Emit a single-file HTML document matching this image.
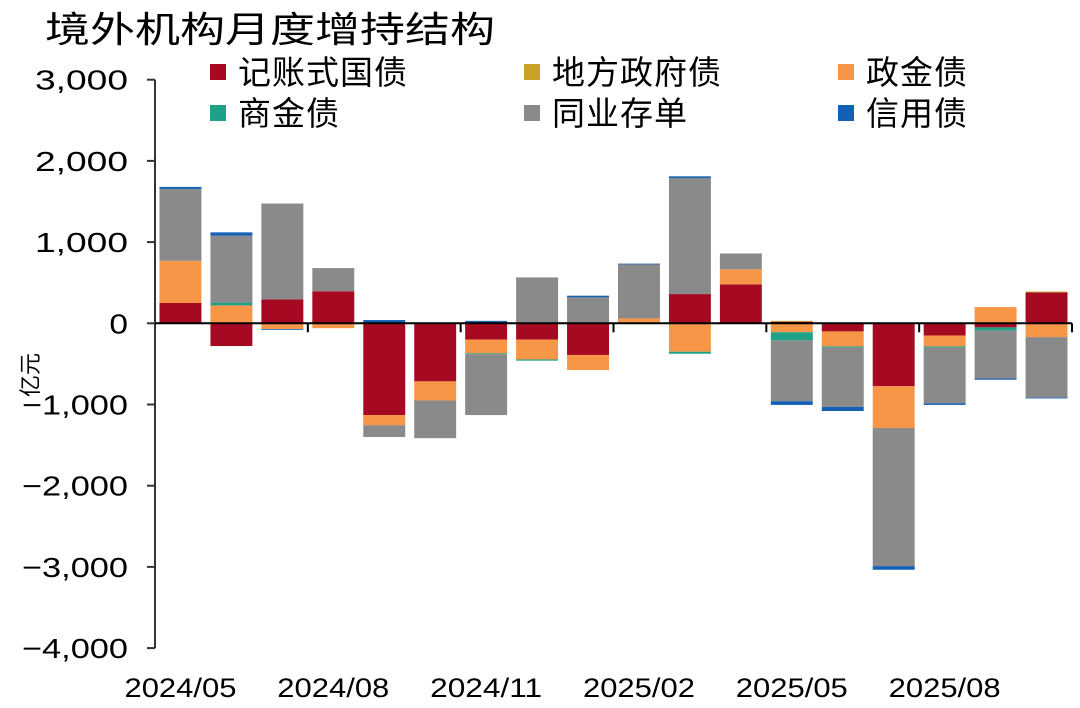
<!DOCTYPE html>
<html><head><meta charset="utf-8"><style>
body{margin:0;background:#fff}
svg text{font-family:"Liberation Sans","Noto Sans CJK SC",sans-serif}
</style></head><body>
<svg id="c" width="1080" height="703" viewBox="0 0 1080 703">
<text x="45" y="42" font-size="36" textLength="450" lengthAdjust="spacingAndGlyphs" fill="#000">境外机构月度增持结构</text>
<text transform="translate(38,375) rotate(-90)" font-size="22" text-anchor="middle" fill="#000">亿元</text>
<g id="legend"></g>
<g id="bars"></g>
<g id="axes"></g>
</svg>
<script>
const categories=["2024/05","2024/06","2024/07","2024/08","2024/09","2024/10","2024/11","2024/12","2025/01","2025/02","2025/03","2025/04","2025/05","2025/06","2025/07","2025/08","2025/09","2025/10"];
const seriesNames=["记账式国债","地方政府债","政金债","商金债","同业存单","信用债"];
const seriesColors=["#a50a22","#c9a227","#f79646","#1fa187","#8a8a8a","#1261b5"];
const treasury=[250,-280,295,395,-1130,-715,-200,-200,-390,0,360,480,20,-100,-775,-150,-50,380];
const localGov=[0,0,0,0,0,0,0,0,0,0,0,0,10,0,0,0,0,10];
const policyBank=[520,220,-70,-60,-125,-235,-170,-245,-185,60,-350,185,-110,-185,-515,-135,200,-170];
const commBank=[0,35,0,0,0,0,-10,-15,0,0,-25,0,-100,-15,0,-15,-40,0];
const ncd=[885,825,1180,285,-145,-465,-750,565,320,665,1430,195,-750,-730,-1700,-685,-590,-745];
const credit=[25,40,-10,0,40,10,30,0,20,10,20,0,-45,-50,-45,-20,-15,-10];
const yTicks=[3000,2000,1000,0,-1000,-2000,-3000,-4000];
const yTickLabels=["3,000","2,000","1,000","0","−1,000","−2,000","−3,000","−4,000"];
const xLabelIdx=[0,3,6,9,12,15];
const NS="http://www.w3.org/2000/svg";
const L=155,R=1072,Y0=323.3,PX=0.0812;
const bw=(R-L)/categories.length;
const y=v=>Y0-v*PX;
const x=i=>L+bw*i;
function mk(tag,attrs,parent){const e=document.createElementNS(NS,tag);for(const k in attrs)e.setAttribute(k,attrs[k]);parent.appendChild(e);return e;}
const bars=document.getElementById('bars'),axes=document.getElementById('axes'),legend=document.getElementById('legend');
const series=[treasury,localGov,policyBank,commBank,ncd,credit];
categories.forEach((c,i)=>{
  let pos=0,neg=0;
  series.forEach((s,k)=>{
    const v=s[i];if(!v)return;
    let a,b;
    if(v>0){a=pos;b=pos+v;pos=b;}else{a=neg;b=neg+v;neg=b;}
    const r=mk('rect',{x:x(i)+4.5,y:Math.min(y(a),y(b)),width:bw-9,height:Math.abs(y(a)-y(b)),fill:seriesColors[k]},bars);
    
    
  });
});
let ax=mk('line',{x1:L,y1:y(3000),x2:L,y2:y(-4000),stroke:'#333','stroke-width':2},axes);

yTicks.forEach((t,i)=>{
  const tk=mk('line',{x1:L-8,x2:L,y1:y(t),y2:y(t),stroke:'#333','stroke-width':2},axes);
  
  const lab=yTickLabels[i];
  const w=lab[0]==='−'?106:lab.length*18.6;
  const tx=mk('text',{x:128-w,y:y(t)+10,'font-size':28,textLength:w,lengthAdjust:'spacingAndGlyphs',fill:'#000'},axes);
  tx.textContent=lab;
  
});
let xa=mk('line',{x1:L,y1:Y0,x2:R,y2:Y0,stroke:'#000','stroke-width':2},axes);

for(let i=3;i<=categories.length;i+=3){
  const tk=mk('line',{x1:x(i),x2:x(i),y1:Y0,y2:Y0+9,stroke:'#000','stroke-width':2},axes);
  
}
xLabelIdx.forEach(i=>{
  const cx=x(i)+bw/2;
  const tx=mk('text',{x:cx-56,y:697,'font-size':27,textLength:112,lengthAdjust:'spacingAndGlyphs',fill:'#000'},axes);
  tx.textContent=categories[i];
  
});
const lx=[210,524,838],ly=[72,113];
seriesNames.forEach((n,k)=>{
  const cx=lx[k%3],cy=ly[Math.floor(k/3)];
  const g=mk('g',{},legend);
  
  mk('rect',{x:cx,y:cy-8,width:16,height:16,fill:seriesColors[k]},g);
  const t=mk('text',{x:cx+28,y:cy+12,'font-size':33,'letter-spacing':1,fill:'#000'},g);
  t.textContent=n;
});
</script>
</body></html>
